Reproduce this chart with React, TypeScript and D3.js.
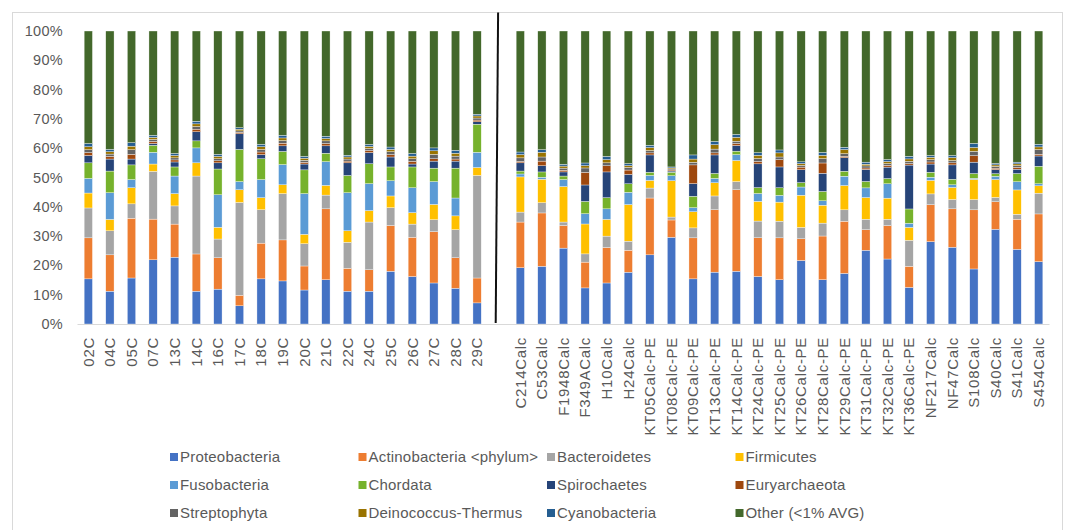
import React from 'react';
import * as d3 from 'd3';

const groupA = ['02C', '04C', '05C', '07C', '13C', '14C', '16C', '17C', '18C', '19C', '20C', '21C', '22C', '24C', '25C', '26C', '27C', '28C', '29C'];
const groupB = [
  'C214Calc', 'C53Calc', 'F1948Calc', 'F349ACalc', 'H10Calc', 'H24Calc',
  'KT05Calc-PE', 'KT08Calc-PE', 'KT09Calc-PE', 'KT13Calc-PE', 'KT14Calc-PE', 'KT24Calc-PE', 'KT25Calc-PE',
  'KT26Calc-PE', 'KT28Calc-PE', 'KT29Calc-PE', 'KT31Calc-PE', 'KT32Calc-PE', 'KT36Calc-PE',
  'NF217Calc', 'NF47Calc', 'S108Calc', 'S40Calc', 'S41Calc', 'S454Calc',
];
const GAP = '__gap__';
const samples = [...groupA, ...groupB];

const taxa = [
  'Proteobacteria', 'Actinobacteria <phylum>', 'Bacteroidetes', 'Firmicutes',
  'Fusobacteria', 'Chordata', 'Spirochaetes', 'Euryarchaeota',
  'Streptophyta', 'Deinococcus-Thermus', 'Cyanobacteria', 'Other (<1% AVG)',
];
const colors = [
  '#4472C4', '#ED7D31', '#A5A5A5', '#FFC000',
  '#5B9BD5', '#76B22C', '#264478', '#9E480E',
  '#636363', '#997300', '#255E91', '#43682B',
];

// percent values, groupA then groupB
const proteobacteria = [15.4, 11.2, 15.7, 21.9, 22.8, 11.2, 11.9, 6.2, 15.4, 14.7, 11.6, 15.1, 11.2, 11.2, 18.0, 16.2, 14.0, 12.2, 7.2,
  19.2, 19.7, 25.9, 12.3, 14.0, 17.7, 23.6, 29.6, 15.4, 17.7, 18.0, 16.2, 15.1, 21.7, 15.1, 17.3, 25.2, 22.2, 12.5, 28.1, 26.2, 18.8, 32.4, 25.5, 21.3];
const actinobacteria = [14.0, 12.4, 20.4, 13.9, 11.3, 12.7, 10.7, 3.6, 12.2, 14.0, 8.2, 24.2, 7.8, 7.3, 15.6, 13.4, 17.5, 10.4, 8.5,
  15.6, 18.2, 7.7, 8.8, 12.1, 7.5, 19.4, 5.9, 14.0, 21.3, 27.8, 13.2, 14.3, 7.4, 14.9, 17.8, 7.0, 11.4, 7.2, 12.6, 13.1, 20.2, 9.4, 10.3, 16.3];
const bacteroidetes = [10.2, 8.2, 4.9, 16.3, 6.2, 26.6, 6.4, 31.7, 11.4, 15.8, 7.6, 4.7, 8.9, 16.3, 6.1, 4.5, 4.1, 9.6, 35.0,
  3.4, 3.5, 1.2, 2.8, 3.9, 3.1, 3.4, 1.0, 3.4, 4.7, 2.8, 5.7, 5.7, 3.9, 4.4, 3.9, 3.6, 2.2, 8.9, 3.7, 3.2, 3.5, 1.5, 1.7, 7.1];
const firmicutes = [5.1, 3.9, 5.5, 2.5, 4.2, 4.5, 4.0, 4.3, 4.1, 3.0, 3.2, 3.3, 3.9, 3.9, 4.0, 3.9, 5.2, 4.7, 2.7,
  12.0, 8.0, 12.1, 10.2, 5.7, 12.5, 2.6, 12.4, 5.5, 4.5, 7.2, 6.7, 6.5, 11.0, 6.1, 8.3, 7.4, 7.2, 4.4, 4.6, 4.1, 6.9, 6.1, 8.3, 2.5];
const fusobacteria = [5.0, 9.1, 2.8, 4.0, 6.0, 5.1, 11.1, 2.8, 6.2, 6.9, 13.9, 8.1, 13.0, 9.2, 5.2, 8.5, 7.8, 6.1, 5.2,
  1.0, 0.7, 2.4, 3.5, 3.6, 4.2, 1.7, 1.7, 1.4, 1.5, 2.0, 2.7, 2.3, 2.8, 1.5, 3.2, 3.3, 4.9, 1.4, 1.1, 0.9, 0.4, 1.1, 2.8, 0.7];
const chordata = [5.3, 7.4, 5.0, 2.4, 3.1, 2.4, 8.8, 11.0, 7.1, 4.5, 8.1, 2.9, 5.9, 6.8, 4.7, 7.1, 4.6, 10.2, 9.6,
  1.0, 1.8, 1.2, 4.2, 3.8, 2.9, 1.1, 1.2, 3.9, 1.7, 1.2, 2.0, 2.6, 1.5, 3.2, 1.7, 2.2, 1.8, 4.9, 1.7, 1.9, 1.6, 0.9, 2.8, 6.0];
const spirochaetes = [2.5, 4.1, 2.0, 0.6, 1.7, 3.1, 2.1, 5.3, 1.4, 1.9, 2.0, 2.5, 4.3, 3.8, 3.4, 1.0, 2.4, 2.4, 0.8,
  2.8, 2.1, 1.4, 5.6, 8.8, 3.2, 5.9, 0.4, 4.3, 6.3, 1.9, 8.1, 7.1, 4.4, 6.2, 4.6, 4.1, 3.9, 15.0, 2.8, 4.9, 3.9, 1.4, 1.5, 3.5];
const euryarchaeota = [1.0, 0.9, 1.6, 0.7, 0.7, 0.9, 0.7, 0.5, 0.9, 0.9, 0.6, 0.8, 0.6, 0.7, 0.8, 0.9, 0.8, 0.7, 0.6,
  0.5, 1.6, 0.6, 4.3, 2.1, 1.5, 0.7, 0.35, 6.4, 0.7, 0.7, 0.8, 2.5, 0.9, 3.5, 0.5, 0.5, 0.6, 0.5, 0.7, 0.7, 2.2, 0.5, 0.6, 0.6];
const streptophyta = [1.0, 0.8, 1.6, 0.7, 0.7, 0.9, 0.7, 0.5, 0.9, 0.9, 0.7, 0.9, 0.7, 0.7, 1.0, 0.9, 1.5, 1.0, 0.7,
  1.2, 1.4, 0.7, 1.5, 1.0, 0.9, 0.8, 0.35, 0.9, 1.3, 0.8, 1.0, 0.9, 0.6, 1.5, 0.9, 0.7, 0.6, 0.8, 0.8, 0.8, 1.5, 0.6, 0.6, 1.6];
const deinococcus = [1.0, 0.8, 1.2, 0.7, 0.8, 0.9, 0.8, 0.6, 0.9, 0.9, 0.7, 0.8, 0.7, 0.7, 0.8, 0.9, 1.2, 1.0, 0.7,
  1.1, 1.6, 0.7, 0.8, 1.1, 0.6, 1.0, 0.35, 1.1, 1.5, 1.3, 1.1, 1.4, 0.6, 1.1, 1.4, 0.6, 0.7, 0.8, 0.8, 1.0, 1.3, 0.5, 0.6, 0.9];
const cyanobacteria = [1.1, 0.8, 1.2, 0.7, 0.7, 0.9, 0.7, 0.5, 0.8, 0.9, 0.6, 0.8, 0.6, 0.7, 0.8, 0.9, 1.0, 1.0, 0.6,
  0.9, 0.9, 0.6, 0.9, 1.1, 0.7, 0.8, 0.35, 1.4, 1.1, 1.0, 0.9, 1.0, 0.6, 1.0, 0.8, 0.7, 0.7, 0.9, 0.6, 0.7, 1.4, 0.5, 0.6, 0.9];
const other = [38.4, 40.4, 38.1, 35.6, 41.8, 30.8, 42.1, 33.0, 38.7, 35.6, 42.8, 35.9, 42.4, 38.7, 39.6, 41.8, 39.9, 40.7, 28.4,
  41.3, 40.5, 45.5, 45.0, 42.8, 45.3, 39.0, 46.4, 42.3, 37.7, 35.3, 41.5, 40.6, 44.7, 41.4, 39.7, 44.8, 43.9, 42.8, 42.5, 42.5, 38.4, 45.3, 44.8, 38.7];

const series = [proteobacteria, actinobacteria, bacteroidetes, firmicutes, fusobacteria, chordata,
  spirochaetes, euryarchaeota, streptophyta, deinococcus, cyanobacteria, other];

const yTicks = [0, 0.1, 0.2, 0.3, 0.4, 0.5, 0.6, 0.7, 0.8, 0.9, 1];

const W = 1074;
const H = 530;
const FONT = '"Liberation Sans", Arial, sans-serif';
const TEXT = '#595959';

export default function App() {
  const rows = samples.map((s, i) => {
    const r: Record<string, any> = { sample: s };
    taxa.forEach((t, k) => { r[t] = series[k][i]; });
    return r;
  });

  const stacked = d3.stack<Record<string, any>>().keys(taxa).offset(d3.stackOffsetExpand)(rows);

  const x = d3.scaleBand<string>()
    .domain([...groupA, GAP, ...groupB])
    .range([77.5, 1049.5])
    .paddingInner(0.616)
    .paddingOuter(0.308);
  const y = d3.scaleLinear().domain([0, 1]).range([324, 31]);
  const fmt = d3.format('.0%');

  const sepX = (x(GAP) ?? 0) + x.bandwidth() / 2;

  return (
    <svg width={W} height={H} style={{ position: 'absolute', left: 0, top: 0, fontFamily: FONT }}>
      <rect x={0} y={0} width={W} height={H} fill="#fff" />
      <rect x={12.5} y={12.5} width={1050} height={530} fill="none" stroke="#D9D9D9" />

      {/* y labels */}
      {yTicks.map((t) => (
        <text key={t} x={63} y={y(t)} dy="0.35em" textAnchor="end" fontSize={14.5} fill={TEXT} letterSpacing={0.3}>
          {fmt(t)}
        </text>
      ))}

      {/* bars */}
      {stacked.map((layer, k) => (
        <g key={layer.key} fill={colors[k]}>
          {layer.map((d) => (
            <rect
              key={d.data.sample}
              x={x(d.data.sample)}
              y={y(d[1])}
              width={x.bandwidth()}
              height={Math.max(0, y(d[0]) - y(d[1]))}
              stroke="#ffffff"
              strokeWidth={0.35}
            />
          ))}
        </g>
      ))}

      {/* baseline */}
      <line x1={77.5} x2={1049.5} y1={y(0) + 0.5} y2={y(0) + 0.5} stroke="#D9D9D9" />

      {/* group separator */}
      <line x1={sepX - 0.6} y1={12.5} x2={sepX - 3} y2={y(0) - 1} stroke="#111" strokeWidth={2} />

      {/* x labels */}
      {samples.map((s) => (
        <text
          key={s}
          transform={`translate(${(x(s) ?? 0) + x.bandwidth() / 2},337) rotate(-90)`}
          dy="0.35em"
          textAnchor="end"
          fontSize={15}
          fill={TEXT}
          letterSpacing={0.7}
        >
          {s}
        </text>
      ))}

      {/* legend */}
      {taxa.map((t, k) => {
        const col = k % 4;
        const row = Math.floor(k / 4);
        const lx = 170 + col * 188.5;
        const ly = 457 + row * 28;
        return (
          <g key={t}>
            <rect x={lx} y={ly - 4} width={8} height={8} fill={colors[k]} />
            <text x={lx + 10} y={ly} dy="0.35em" fontSize={15} fill={TEXT} letterSpacing={0.2}>
              {t}
            </text>
          </g>
        );
      })}
    </svg>
  );
}
